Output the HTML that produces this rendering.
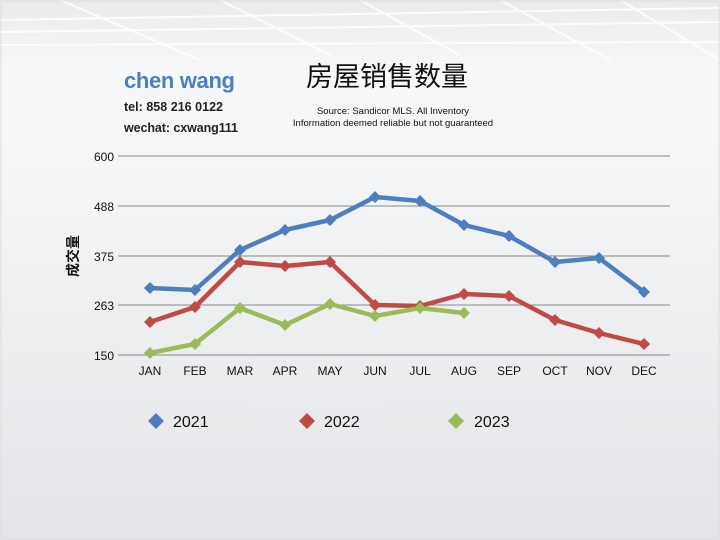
<!DOCTYPE html>
<html><head><meta charset="utf-8"><style>
html,body{margin:0;padding:0}
body{width:720px;height:540px;overflow:hidden;background:linear-gradient(#e9eaec 0px,#f6f7f8 70px,#f5f6f7 140px,#e3e5e8 540px);font-family:"Liberation Sans","Noto Sans CJK SC",sans-serif;position:relative}
</style></head><body>
<svg width="720" height="540" style="position:absolute;left:0;top:0">
<g stroke="#fff" stroke-width="2" opacity="0.8" fill="none">
<line x1="0" y1="20" x2="720" y2="8"/><line x1="0" y1="32" x2="720" y2="22"/>
<line x1="0" y1="45" x2="720" y2="42"/><line x1="60" y1="0" x2="200" y2="60"/>
<line x1="220" y1="0" x2="330" y2="55"/><line x1="360" y1="0" x2="460" y2="55"/>
<line x1="500" y1="0" x2="610" y2="60"/><line x1="620" y1="0" x2="720" y2="60"/>
</g>
<rect x="1" y="1" width="718" height="538" fill="none" stroke="#ddd"/>
<text x="124" y="88" font-size="22" font-weight="bold" fill="#4f7ebf" textLength="111">chen wang</text>
<text x="124" y="111" font-size="12.5" font-weight="bold" fill="#222" textLength="99">tel: 858 216 0122</text>
<text x="124" y="132" font-size="12.5" font-weight="bold" fill="#222" textLength="114">wechat: cxwang111</text>
<text x="387" y="86" font-size="27" text-anchor="middle" fill="#111">房屋销售数量</text>
<text x="393" y="114" font-size="9.5" text-anchor="middle" fill="#111">Source: Sandicor MLS. All Inventory</text>
<text x="393" y="126" font-size="9.5" text-anchor="middle" fill="#111">Information deemed reliable but not guaranteed</text>
<g stroke="#888" stroke-width="1">
<line x1="118" y1="156" x2="670" y2="156"/><line x1="118" y1="206" x2="670" y2="206"/>
<line x1="118" y1="256" x2="670" y2="256"/><line x1="118" y1="305" x2="670" y2="305"/>
<line x1="118" y1="355" x2="670" y2="355"/></g>
<g font-size="12" fill="#111" text-anchor="end">
<text x="114" y="161">600</text><text x="114" y="211">488</text><text x="114" y="261">375</text><text x="114" y="310">263</text><text x="114" y="360">150</text></g>
<text transform="translate(78,256) rotate(-90)" font-size="14" font-weight="bold" text-anchor="middle" fill="#111">成交量</text>
<g font-size="12" fill="#111" text-anchor="middle">
<text x="150" y="375">JAN</text><text x="195" y="375">FEB</text><text x="240" y="375">MAR</text><text x="285" y="375">APR</text><text x="330" y="375">MAY</text><text x="375" y="375">JUN</text><text x="420" y="375">JUL</text><text x="464" y="375">AUG</text><text x="509" y="375">SEP</text><text x="555" y="375">OCT</text><text x="599" y="375">NOV</text><text x="644" y="375">DEC</text></g>
<defs><path id="d" d="M0,-6 L6,0 L0,6 L-6,0Z"/><path id="L" d="M0,-8 L8,0 L0,8 L-8,0Z"/></defs>
<g fill="none" stroke-width="4.5" stroke-linejoin="round">
<polyline stroke="#4f7ebf" points="150,288 195,290 240,250 285,230 330,220 375,197 420,201 464,225 509,236 555,262 599,258 644,292"/>
<polyline stroke="#bf4b47" points="150,322 195,307 240,262 285,266 330,262 375,305 420,306 464,294 509,296 555,320 599,333 644,344"/>
<polyline stroke="#9bbb59" points="150,353 195,344 240,308 285,325 330,304 375,316 420,308 464,313"/>
</g>
<g fill="#4f7ebf"><use href="#d" x="150" y="288"/><use href="#d" x="195" y="290"/><use href="#d" x="240" y="250"/><use href="#d" x="285" y="230"/><use href="#d" x="330" y="220"/><use href="#d" x="375" y="197"/><use href="#d" x="420" y="201"/><use href="#d" x="464" y="225"/><use href="#d" x="509" y="236"/><use href="#d" x="555" y="262"/><use href="#d" x="599" y="258"/><use href="#d" x="644" y="292"/><use href="#L" x="156" y="421"/></g>
<g fill="#bf4b47"><use href="#d" x="150" y="322"/><use href="#d" x="195" y="307"/><use href="#d" x="240" y="262"/><use href="#d" x="285" y="266"/><use href="#d" x="330" y="262"/><use href="#d" x="375" y="305"/><use href="#d" x="420" y="306"/><use href="#d" x="464" y="294"/><use href="#d" x="509" y="296"/><use href="#d" x="555" y="320"/><use href="#d" x="599" y="333"/><use href="#d" x="644" y="344"/><use href="#L" x="307" y="421"/></g>
<g fill="#9bbb59"><use href="#d" x="150" y="353"/><use href="#d" x="195" y="344"/><use href="#d" x="240" y="308"/><use href="#d" x="285" y="325"/><use href="#d" x="330" y="304"/><use href="#d" x="375" y="316"/><use href="#d" x="420" y="308"/><use href="#d" x="464" y="313"/><use href="#L" x="456" y="421"/></g>
<g font-size="16" fill="#111"><text x="173" y="427">2021</text><text x="324" y="427">2022</text><text x="474" y="427">2023</text></g>
</svg>
</body></html>
